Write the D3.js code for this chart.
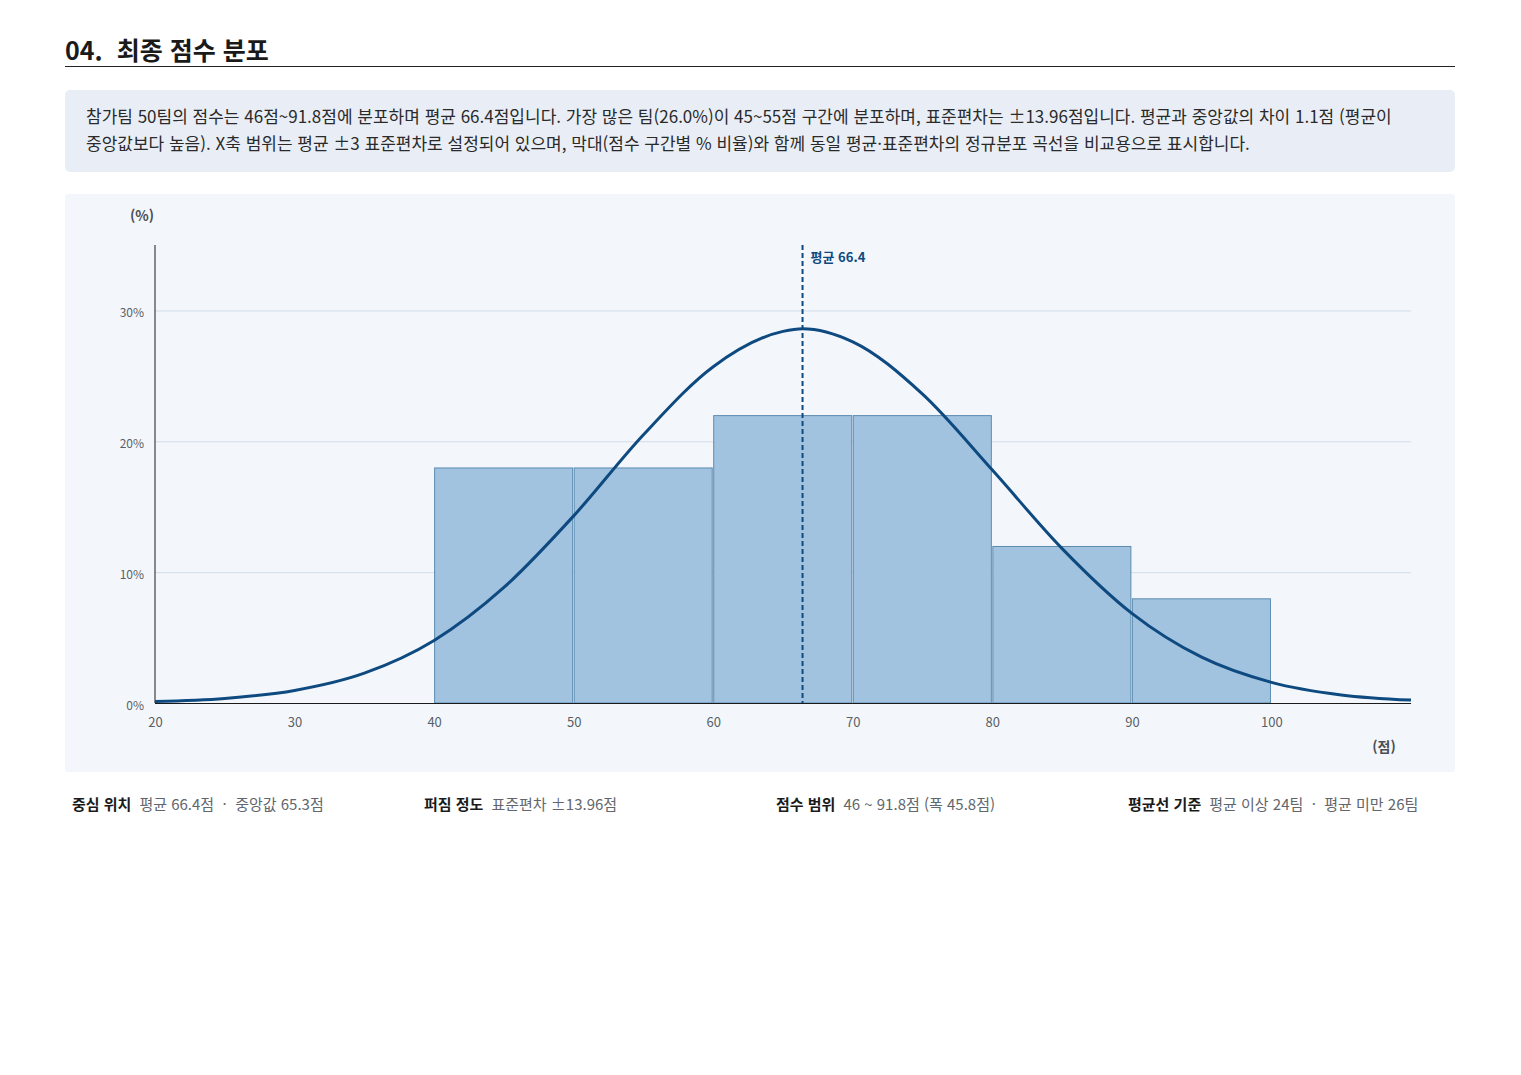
<!DOCTYPE html>
<html lang="ko">
<head>
<meta charset="utf-8">
<script src="https://cdn.jsdelivr.net/npm/d3@7"></script>
<style>
  body { margin: 0; background: #fff; font-family: "Noto Sans CJK KR", "Noto Sans", sans-serif; }
  svg { display: block; }
</style>
</head>
<body>
<div id="chart"></div>
<script>
// 점수 구간 (막대)
const binStarts = [40, 50, 60, 70, 80, 90];
const binWidth = 10;
const binPercents = [18, 18, 22, 22, 12, 8];

// 정규분포 곡선 (그림에서 읽은 값, %)
const curveX = [20, 25, 30, 35, 40, 45, 50, 55, 60, 65, 66.4, 70, 75, 80, 85, 90, 95, 100, 105, 110];
const curveY = [0.11, 0.35, 0.96, 2.28, 4.78, 8.83, 14.3, 20.5, 25.7, 28.4, 28.6, 27.6, 23.6, 17.8, 11.8, 6.85, 3.5, 1.58, 0.62, 0.22];

const meanValue = 66.4;
const xTicks = [20, 30, 40, 50, 60, 70, 80, 90, 100];
const yTicks = [0, 10, 20, 30];

const descLines = [
  "참가팀 50팀의 점수는 46점~91.8점에 분포하며 평균 66.4점입니다. 가장 많은 팀(26.0%)이 45~55점 구간에 분포하며, 표준편차는 ±13.96점입니다. 평균과 중앙값의 차이 1.1점 (평균이",
  "중앙값보다 높음). X축 범위는 평균 ±3 표준편차로 설정되어 있으며, 막대(점수 구간별 % 비율)와 함께 동일 평균·표준편차의 정규분포 곡선을 비교용으로 표시합니다."
];

const footerItems = [
  { label: "중심 위치", value: "평균 66.4점 · 중앙값 65.3점" },
  { label: "퍼짐 정도", value: "표준편차 ±13.96점" },
  { label: "점수 범위", value: "46 ~ 91.8점 (폭 45.8점)" },
  { label: "평균선 기준", value: "평균 이상 24팀 · 평균 미만 26팀" }
];

const W = 1521, H = 1075;
const svg = d3.select("#chart").append("svg").attr("width", W).attr("height", H);

// 제목
svg.append("text")
  .attr("x", 65).attr("y", 60)
  .style("font-size", "25px").style("font-weight", 700).style("white-space", "pre")
  .attr("fill", "#1a1a1a")
  .text("04.  최종 점수 분포");
svg.append("line")
  .attr("x1", 65).attr("x2", 1455).attr("y1", 66.5).attr("y2", 66.5)
  .attr("stroke", "#222").attr("stroke-width", 1);

// 설명 박스
svg.append("rect")
  .attr("x", 65).attr("y", 90).attr("width", 1390).attr("height", 82)
  .attr("rx", 5).attr("fill", "#e9eef6");
svg.append("g").selectAll("text")
  .data(descLines)
  .join("text")
  .attr("x", 86)
  .attr("y", (d, i) => 123 + i * 27)
  .style("font-size", "17px").attr("fill", "#2a2a2a")
  .text(d => d);

// 차트 패널
svg.append("rect")
  .attr("x", 65).attr("y", 194).attr("width", 1390).attr("height", 578)
  .attr("rx", 3).attr("fill", "#f3f7fb");

const x = d3.scaleLinear().domain([20, 110]).range([155, 1411]);
const y = d3.scaleLinear().domain([0, 35]).range([703, 245]);

// 그리드
svg.append("g").selectAll("line")
  .data(yTicks.filter(d => d > 0))
  .join("line")
  .attr("x1", x(20)).attr("x2", x(110))
  .attr("y1", d => y(d) + 0.5).attr("y2", d => y(d) + 0.5)
  .attr("stroke", "#d3dceb").attr("stroke-width", 1);

// 막대
svg.append("g").selectAll("rect")
  .data(binStarts.map((s, i) => ({ x0: s, x1: s + binWidth, v: binPercents[i] })))
  .join("rect")
  .attr("x", d => x(d.x0) + 0.5)
  .attr("width", d => x(d.x1) - x(d.x0) - 1.5)
  .attr("y", d => y(d.v) + 0.5)
  .attr("height", d => y(0) - y(d.v) - 0.5)
  .attr("fill", "#a2c3e0")
  .attr("stroke", "#5b8bb0")
  .attr("stroke-width", 1);

// 축 (y)
const yAxis = svg.append("g")
  .attr("transform", `translate(${x(20)},2.5)`)
  .call(d3.axisLeft(y).tickValues(yTicks).tickSize(0).tickPadding(11).tickFormat(d => d + "%"));
yAxis.select(".domain").remove();
yAxis.selectAll("text").style("font-size", "12px").attr("fill", "#5a5f66")
  .style("font-family", "'Noto Sans CJK KR', sans-serif");

// 축 (x)
const xAxis = svg.append("g")
  .attr("transform", `translate(0,${y(0) + 3})`)
  .call(d3.axisBottom(x).tickValues(xTicks).tickSize(0).tickPadding(12));
xAxis.select(".domain").remove();
xAxis.selectAll("text").style("font-size", "13px").attr("fill", "#5a5f66")
  .style("font-family", "'Noto Sans CJK KR', sans-serif");

// 축선
svg.append("line")
  .attr("x1", x(20)).attr("x2", x(20)).attr("y1", 245).attr("y2", y(0))
  .attr("stroke", "#1a1a1a").attr("stroke-width", 1);
svg.append("line")
  .attr("x1", x(20)).attr("x2", x(110)).attr("y1", y(0) + 0.5).attr("y2", y(0) + 0.5)
  .attr("stroke", "#1a1a1a").attr("stroke-width", 1);

// 정규분포 곡선
const line = d3.line()
  .x(d => x(d[0])).y(d => y(d[1]))
  .curve(d3.curveMonotoneX);
svg.append("path")
  .datum(curveX.map((v, i) => [v, curveY[i]]))
  .attr("d", line)
  .attr("fill", "none")
  .attr("stroke", "#0e4a80")
  .attr("stroke-width", 3);

// 평균선
svg.append("line")
  .attr("x1", x(meanValue)).attr("x2", x(meanValue))
  .attr("y1", 245).attr("y2", y(0))
  .attr("stroke", "#0e4a80").attr("stroke-width", 2)
  .attr("stroke-dasharray", "5,3");
svg.append("text")
  .attr("x", x(meanValue) + 8).attr("y", 262)
  .style("font-size", "13px").style("font-weight", 700).attr("fill", "#0e4a80")
  .text("평균 " + meanValue);

// 축 제목
svg.append("text")
  .attr("x", 142).attr("y", 221).attr("text-anchor", "middle")
  .style("font-size", "14px").style("font-weight", 700).attr("fill", "#4a4f57")
  .text("(%)");
svg.append("text")
  .attr("x", 1384).attr("y", 752).attr("text-anchor", "middle")
  .style("font-size", "14px").style("font-weight", 700).attr("fill", "#4a4f57")
  .text("(점)");

// 하단 요약
const foot = svg.append("g").selectAll("text")
  .data(footerItems)
  .join("text")
  .attr("x", (d, i) => 72 + i * 352)
  .attr("y", 810)
  .style("font-size", "15px").style("white-space", "pre");
foot.append("tspan").style("font-weight", 700).attr("fill", "#1a1a1a").text(d => d.label);
foot.append("tspan").attr("dx", 8).attr("fill", "#62666d").text(d => d.value.replace(/ · /g, "  ·  "));
</script>
</body>
</html>
